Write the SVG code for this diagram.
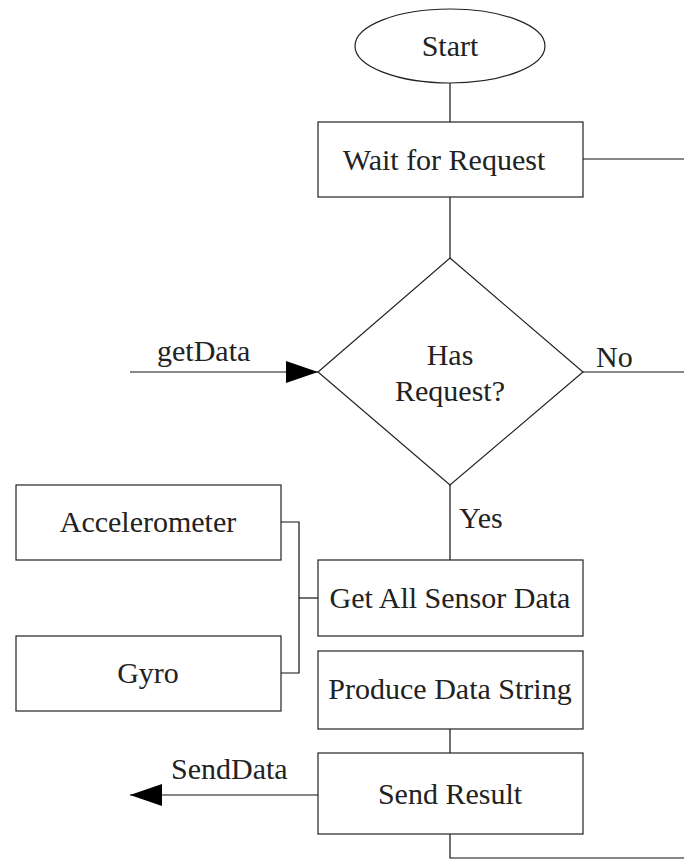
<svg xmlns="http://www.w3.org/2000/svg" width="684" height="863" viewBox="0 0 684 863" font-family="Liberation Serif, Times New Roman, serif">
  <style>
    .shape { fill: #ffffff; stroke: #222222; stroke-width: 1.2; }
    .wire { fill: none; stroke: #111111; stroke-width: 1.2; }
    text { font-family: "Liberation Serif", "Times New Roman", serif; font-size: 30px; fill: #222222; }
    .label { text-anchor: middle; }
  </style>
  <defs>
    <marker id="arrowhead" viewBox="0 0 32 22" refX="32" refY="11" markerWidth="32" markerHeight="22" markerUnits="userSpaceOnUse" orient="auto">
      <path d="M0,0 L32,11 L0,22 Z" fill="#000000"/>
    </marker>
  </defs>
  <rect width="684" height="863" fill="#ffffff"/>

  <g id="connectors">
    <line class="wire" x1="450" y1="83" x2="450" y2="122"/>
    <line class="wire" x1="583" y1="159" x2="684" y2="159"/>
    <line class="wire" x1="450" y1="197" x2="450" y2="258"/>
    <line class="wire" x1="130" y1="372" x2="318" y2="372" marker-end="url(#arrowhead)"/>
    <line class="wire" x1="583" y1="372" x2="684" y2="372"/>
    <line class="wire" x1="450" y1="485" x2="450" y2="560"/>
    <polyline class="wire" points="281,522 299,522 299,673 281,673"/>
    <line class="wire" x1="299" y1="598" x2="318" y2="598"/>
    <line class="wire" x1="450" y1="729" x2="450" y2="753"/>
    <line class="wire" x1="318" y1="795" x2="130" y2="795" marker-end="url(#arrowhead)"/>
    <polyline class="wire" points="450,834 450,858 684,858"/>
    <text x="157" y="361">getData</text>
    <text x="596" y="367">No</text>
    <text x="459" y="528">Yes</text>
    <text x="171" y="779">SendData</text>
  </g>

  <g id="start">
    <ellipse class="shape" cx="450" cy="46" rx="95" ry="37"/>
    <text class="label" x="450" y="56">Start</text>
  </g>

  <g id="wait-for-request">
    <rect class="shape" x="318" y="122" width="265" height="75"/>
    <text class="label" x="444" y="170">Wait for Request</text>
  </g>

  <g id="has-request">
    <polygon class="shape" points="450,258 583,372 450,485 318,372"/>
    <text class="label" x="450" y="365">Has</text>
    <text class="label" x="450" y="401">Request?</text>
  </g>

  <g id="accelerometer">
    <rect class="shape" x="16" y="485" width="265" height="75"/>
    <text class="label" x="148" y="532">Accelerometer</text>
  </g>

  <g id="gyro">
    <rect class="shape" x="16" y="636" width="265" height="75"/>
    <text class="label" x="148" y="683">Gyro</text>
  </g>

  <g id="get-all-sensor-data">
    <rect class="shape" x="318" y="560" width="265" height="76"/>
    <text class="label" x="450" y="608">Get All Sensor Data</text>
  </g>

  <g id="produce-data-string">
    <rect class="shape" x="318" y="651" width="265" height="78"/>
    <text class="label" x="450" y="699">Produce Data String</text>
  </g>

  <g id="send-result">
    <rect class="shape" x="318" y="753" width="265" height="81"/>
    <text class="label" x="450" y="804">Send Result</text>
  </g>
</svg>
